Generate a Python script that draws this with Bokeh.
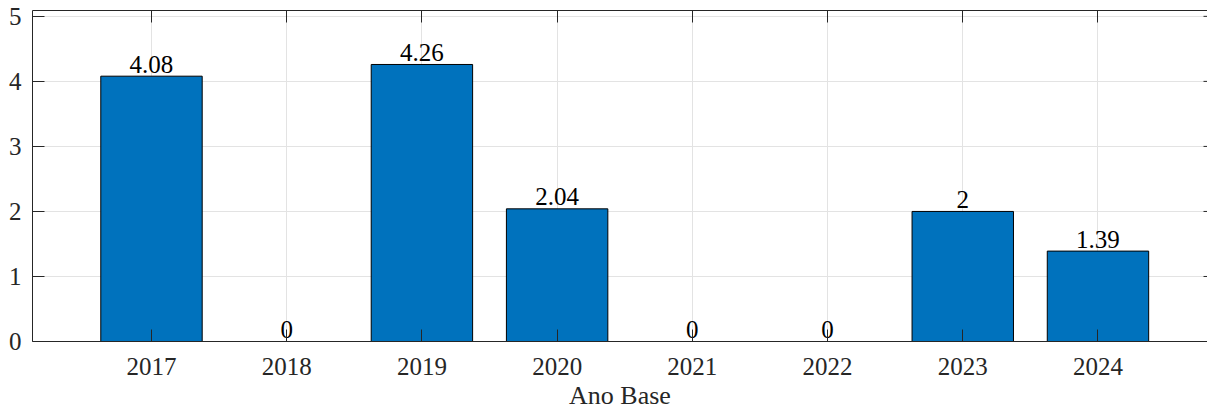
import numpy as np
from bokeh.plotting import figure
from bokeh.models import ColumnDataSource, FixedTicker, LinearAxis, Range1d
from bokeh.core.properties import value
from bokeh.embed import file_html
from bokeh.resources import INLINE

# ---- data ----
years = [2017, 2018, 2019, 2020, 2021, 2022, 2023, 2024]
values = [4.08, 0, 4.26, 2.04, 0, 0, 2, 1.39]
bar_labels = [f"{v:g}" for v in values]
y_ticks = [0, 1, 2, 3, 4, 5]
x_label = "Ano Base"

FONT = "Liberation Serif"
AX = "#262626"
x_start, x_end = 2016.12, 2024.81

src = ColumnDataSource(dict(year=years, val=values, label=bar_labels))

p = figure(width=1207, height=412,
           x_range=Range1d(x_start, x_end), y_range=Range1d(0, 5.09),
           output_backend="svg", toolbar_location=None,
           min_border_left=32, min_border_right=0,
           min_border_top=10, min_border_bottom=71)
p.outline_line_color = None
p.background_fill_color = "white"

# grid
p.xgrid.ticker = FixedTicker(ticks=years)
p.ygrid.ticker = FixedTicker(ticks=y_ticks)
for g in (p.xgrid[0], p.ygrid[0]):
    g.grid_line_color = "#e3e3e3"
    g.grid_line_width = 1

# bars
p.vbar(x="year", top="val", width=0.75, bottom=0, source=src,
       fill_color="#0072BD", line_color="black", line_width=1)

# value labels
p.text(x="year", y="val", text="label", source=src,
       text_align="center", text_baseline="middle", y_offset=-12,
       text_font=value(FONT), text_font_size="25px", text_color="black")

# right-side tick stubs (box edge lies at window edge)
p.ray(x=[x_end] * (len(y_ticks) - 1), y=y_ticks[1:], length=4,
      angle=np.pi, length_units="screen", line_color=AX, line_width=1)

# axes
xa = p.xaxis[0]
xa.ticker = FixedTicker(ticks=years)
xa.major_label_overrides = {y: str(y) for y in years}
ya = p.yaxis[0]
ya.ticker = FixedTicker(ticks=y_ticks)

for ax in (xa, ya):
    ax.axis_line_color = AX
    ax.axis_line_width = 1
    ax.major_tick_in = 12
    ax.major_tick_out = 0
    ax.major_tick_line_color = AX
    ax.minor_tick_line_color = None
    ax.major_label_text_font = FONT
    ax.major_label_text_font_size = "25px"
    ax.major_label_text_color = AX

xa.major_label_standoff = 16
ya.major_label_standoff = 11
xa.axis_label = x_label
xa.axis_label_text_font = FONT
xa.axis_label_text_font_style = "normal"
xa.axis_label_text_font_size = "26px"
xa.axis_label_text_color = AX
xa.axis_label_standoff = 3

top = LinearAxis(ticker=FixedTicker(ticks=years),
                 major_label_overrides={y: "" for y in years},
                 major_label_text_font_size="0px", major_label_standoff=0,
                 major_tick_in=12, major_tick_out=0,
                 major_tick_line_color=AX, minor_tick_line_color=None,
                 axis_line_color=AX, axis_line_width=1)
p.add_layout(top, "above")

open("out.html", "w").write(file_html(p, INLINE))
